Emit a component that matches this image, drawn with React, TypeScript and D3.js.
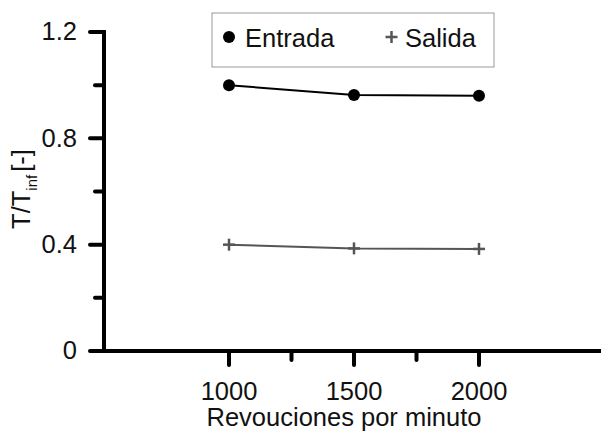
import React from "react";
import * as d3 from "d3";

const rpm = [1000, 1500, 2000];
const entrada = [1.0, 0.963, 0.96];
const salida = [0.4, 0.386, 0.384];
const yTicks = [0, 0.4, 0.8, 1.2];
const yMinor = [0.2, 0.6, 1.0];
const xTicks = [1000, 1500, 2000];
const xMinor = [1250, 1750];

const W = 601, H = 432;
const FONT = "Liberation Sans, Arial, sans-serif";
const FS = 25.5;

export default function App() {
  const x = d3.scaleLinear().domain([500, 2500]).range([104, 604]);
  const y = d3.scaleLinear().domain([0, 1.2]).range([351, 32]);
  const line = d3.line<number>().x((_, i) => x(rpm[i])).y((d) => y(d));
  const axisY0 = y(0);
  return (
    <svg width={W} height={H} style={{ position: "absolute", left: 0, top: 0, background: "#fff" }} fontFamily={FONT}>
      {/* y axis */}
      <line x1={104} x2={104} y1={y(1.2) - 2} y2={axisY0 + 2} stroke="#000" strokeWidth={4} />
      {yTicks.map((t) => (
        <g key={"yt" + t}>
          <line x1={90} x2={104} y1={y(t)} y2={y(t)} stroke="#000" strokeWidth={4} strokeLinecap="round" />
          <text x={77} y={y(t)} dy="0.33em" textAnchor="end" fontSize={FS} fill="#111">{t === 0 ? "0" : t.toFixed(1)}</text>
        </g>
      ))}
      {yMinor.map((t) => (
        <line key={"ym" + t} x1={95} x2={104} y1={y(t)} y2={y(t)} stroke="#000" strokeWidth={4} strokeLinecap="round" />
      ))}
      {/* x axis */}
      <line x1={90} x2={W} y1={axisY0} y2={axisY0} stroke="#000" strokeWidth={4} />
      {xTicks.map((t) => (
        <g key={"xt" + t}>
          <line x1={x(t)} x2={x(t)} y1={axisY0} y2={axisY0 + 14} stroke="#000" strokeWidth={4} strokeLinecap="round" />
          <text x={x(t)} y={400} textAnchor="middle" fontSize={FS} fill="#111">{t}</text>
        </g>
      ))}
      {xMinor.map((t) => (
        <line key={"xm" + t} x1={x(t)} x2={x(t)} y1={axisY0} y2={axisY0 + 9} stroke="#000" strokeWidth={4} strokeLinecap="round" />
      ))}
      <text x={344} y={426} textAnchor="middle" fontSize={FS} fill="#111">Revouciones por minuto</text>
      <text transform="translate(30,189) rotate(-90)" textAnchor="middle" fontSize={FS} fill="#111">
        T/T<tspan fontSize={15} dy={7}>inf</tspan><tspan dy={-7} dx={3}>[-]</tspan>
      </text>
      {/* series */}
      <path d={line(entrada) || ""} fill="none" stroke="#000" strokeWidth={2} />
      {entrada.map((v, i) => (
        <circle key={"e" + i} cx={x(rpm[i])} cy={y(v)} r={6} fill="#000" />
      ))}
      <path d={line(salida) || ""} fill="none" stroke="#555" strokeWidth={2} />
      {salida.map((v, i) => (
        <g key={"s" + i} stroke="#555" strokeWidth={2.5}>
          <line x1={x(rpm[i]) - 6} x2={x(rpm[i]) + 6} y1={y(v)} y2={y(v)} />
          <line x1={x(rpm[i])} x2={x(rpm[i])} y1={y(v) - 6} y2={y(v) + 6} />
        </g>
      ))}
      {/* legend */}
      <rect x={212} y={13} width={282} height={54} fill="#fff" stroke="#999" strokeWidth={1} />
      <circle cx={229} cy={37} r={6} fill="#000" />
      <text x={245} y={47} fontSize={FS} fill="#111">Entrada</text>
      <g stroke="#555" strokeWidth={2.5}>
        <line x1={385.5} x2={397.5} y1={37} y2={37} />
        <line x1={391.5} x2={391.5} y1={31} y2={43} />
      </g>
      <text x={405} y={47} fontSize={FS} fill="#111">Salida</text>
    </svg>
  );
}
